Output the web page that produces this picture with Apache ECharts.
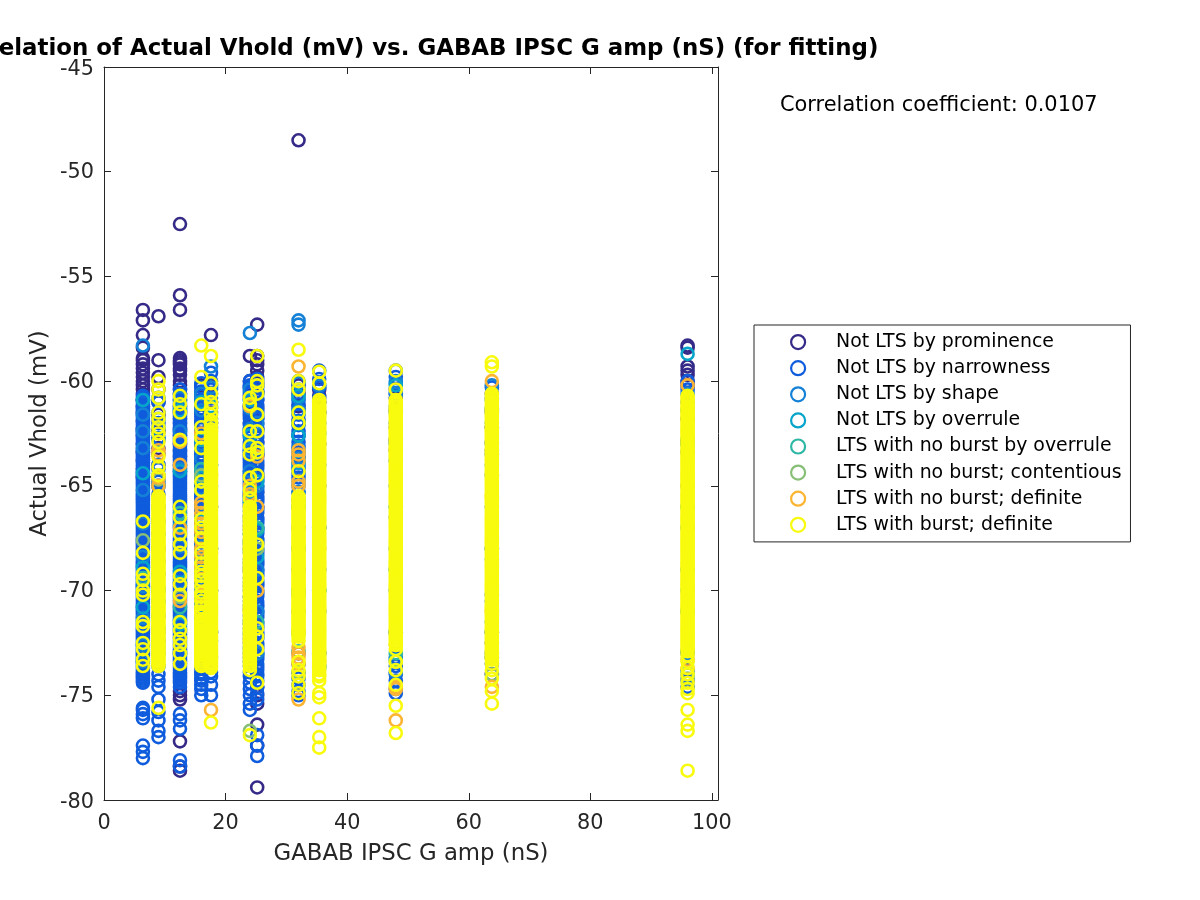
<!DOCTYPE html>
<html><head><meta charset="utf-8">
<style>html,body{margin:0;padding:0;background:#fff}#c{width:1200px;height:900px}</style>
<script src="https://cdn.jsdelivr.net/npm/echarts@6/dist/echarts.min.js"></script>
</head><body><div id="c"></div>
<script>
const chartTitle = 'Correlation of Actual Vhold (mV) vs. GABAB IPSC G amp (nS) (for fitting)';
const corrText = 'Correlation coefficient: 0.0107';
const xName = 'GABAB IPSC G amp (nS)';
const yName = 'Actual Vhold (mV)';
const gValues = [6.4, 8.96, 12.5, 16, 17.6, 24, 25.2, 32, 35.4, 48, 63.8, 96];
const classNames = ['Not LTS by prominence','Not LTS by narrowness','Not LTS by shape','Not LTS by overrule','LTS with no burst by overrule','LTS with no burst; contentious','LTS with no burst; definite','LTS with burst; definite'];
const classColors = ['#352a87','#0f5cdd','#1481d6','#06a4ca','#2eb7a4','#87bf77','#fbb532','#f9fb0e'];

// Each class: one list of Vhold values for each entry of gValues
const prominence = [
 [-56.6,-57.1,-57.8,-58.4,-58.9,-59,-59.2,-59.4,-59.6,-59.8,-60,-60.2,-60.4,-60.6,-60.9,-61.2,-61.5,-61.9,-62.3,-62.6,-63,-63.4,-63.8,-64.2,-64.6],
 [-56.9,-59,-59.8,-60.4,-61,-61.6,-62.4,-63.2,-64,-65],
 [-52.5,-55.9,-56.6,-58.9,-59,-59.1,-59.2,-59.4,-59.5,-59.7,-60,-60.2,-60.4,-60.6,-60.9,-61.2,-61.5,-61.8,-62,-62.3,-62.6,-63,-63.3,-63.6,-64,-64.3,-74.8,-75,-75.2,-77.2,-78.4,-78.6],
 [-60.2,-60.6,-61,-61.5,-62,-62.6],
 [-57.8,-60.2,-60.6,-61,-61.5,-62],
 [-58.8,-60,-60.3,-60.7,-61.2,-61.6,-62,-62.5],
 [-57.3,-58.8,-59,-59.2,-59.5,-59.8,-60.1,-60.5,-60.9,-61.3,-61.8,-62.3,-62.9,-63.5,-64,-64.6,-65.3,-66,-74.6,-75,-75.4,-76.4,-77.4,-79.4],
 [-48.5,-60.2,-60.6,-61.2,-61.9],
 [-60.4,-60.7,-61,-61.5],
 [-60.4,-60.8,-61.4,-62.2,-62.8,-63.3],
 [-60.6,-61.4,-62.2,-62.9,-63.3,-72.5,-73.2,-74],
 [-58.3,-58.4,-59.3,-59.5,-59.7,-60,-60.2,-61.8,-62.9]
];
const narrowness = [
 [-60.7,-60.9,-61,-61.2,-61.4,-61.5,-61.7,-61.8,-62,-62.2,-62.3,-62.5,-62.6,-62.8,-63,-63.1,-63.3,-63.4,-63.6,-63.8,-63.9,-64.1,-64.2,-64.4,-64.5,-64.7,-64.8,-65,-65.1,-65.3,-65.4,-65.6,-65.7,-65.9,-66,-66.2,-66.3,-66.5,-66.6,-66.8,-66.9,-67.1,-67.2,-67.4,-67.5,-67.7,-67.8,-68,-68.1,-68.3,-68.4,-68.6,-68.7,-68.9,-69,-69.2,-69.3,-69.5,-69.6,-69.8,-69.9,-70.1,-70.2,-70.4,-70.5,-70.7,-70.8,-71,-71.1,-71.3,-71.4,-71.6,-71.7,-71.9,-72,-72.2,-72.3,-72.5,-72.6,-72.8,-72.9,-73.1,-73.2,-73.4,-73.5,-73.7,-73.8,-74,-74.2,-74.4,-75.6,-75.7,-75.9,-76.1,-77.4,-77.7,-78],
 [-61,-61.5,-62,-62.7,-63.5,-64.2,-64.8,-65.4,-66,-66.7,-67.3,-68,-68.6,-69.2,-69.9,-70.5,-71.2,-71.8,-72.4,-73,-73.6,-74,-74.3,-74.6,-75.2,-75.8,-76.2,-76.7,-77],
 [-60.4,-60.7,-60.9,-61.1,-61.3,-61.5,-61.8,-62,-62.2,-62.5,-62.8,-63,-63.3,-63.6,-63.8,-64,-64.2,-64.4,-64.6,-64.8,-65,-65.2,-65.3,-65.5,-65.7,-65.8,-66,-66.2,-66.3,-66.5,-66.7,-66.8,-67,-67.2,-67.3,-67.5,-67.6,-67.8,-68,-68.1,-68.3,-68.4,-68.6,-68.8,-68.9,-69.1,-69.3,-69.4,-69.6,-69.8,-69.9,-70.1,-70.2,-70.4,-70.6,-70.7,-70.9,-71,-71.2,-71.4,-71.5,-71.7,-71.8,-72,-72.2,-72.3,-72.5,-72.6,-72.8,-73,-73.1,-73.3,-73.4,-73.6,-73.8,-74,-74.2,-74.4,-74.6,-75.9,-76.2,-76.6,-78.1,-78.4],
 [-60.1,-60.5,-60.9,-61.3,-61.7,-62,-62.3,-62.7,-63,-63.3,-63.6,-63.9,-64.2,-64.4,-64.7,-65,-65.2,-65.5,-65.7,-66,-66.3,-66.6,-66.8,-67.1,-67.4,-67.7,-68,-68.2,-68.5,-68.8,-69.1,-69.3,-69.6,-69.9,-70.2,-70.4,-70.7,-71,-71.3,-71.5,-71.8,-72.1,-72.4,-72.6,-72.9,-73.2,-73.5,-73.7,-74,-74.3,-74.5,-74.7,-75],
 [-59.6,-60,-60.4,-60.8,-61.3,-61.8,-62.2,-64,-66,-68,-70,-72,-73.9,-74.1,-74.5,-75],
 [-60,-60.3,-60.6,-60.9,-61.2,-61.5,-61.8,-62.1,-62.4,-62.7,-63,-63.2,-63.4,-63.7,-63.9,-64.2,-64.4,-64.6,-64.8,-65.1,-65.3,-65.5,-65.8,-66,-66.2,-66.4,-66.7,-66.9,-67.1,-67.3,-67.6,-67.8,-68,-68.2,-68.5,-68.7,-68.9,-69.1,-69.4,-69.6,-69.8,-70,-70.3,-70.5,-70.7,-70.9,-71.2,-71.4,-71.6,-71.8,-72.1,-72.3,-72.5,-72.7,-73,-73.2,-73.4,-73.6,-73.9,-74.1,-74.4,-74.7,-75,-75.4,-75.7],
 [-59.9,-60.2,-60.5,-60.8,-61.1,-61.4,-61.7,-62,-62.3,-62.6,-62.9,-63.2,-63.5,-63.8,-64.1,-64.4,-64.7,-65,-65.2,-65.5,-65.7,-66,-66.2,-66.5,-66.7,-67,-67.2,-67.5,-67.7,-68,-68.2,-68.5,-68.7,-69,-69.2,-69.5,-69.7,-70,-70.2,-70.5,-70.7,-71,-71.2,-71.5,-71.7,-72,-72.2,-72.5,-72.7,-73,-73.2,-73.5,-73.7,-74,-74.3,-74.6,-74.9,-75.2,-76.9,-77.4,-77.9],
 [-60,-60.4,-60.9,-61.4,-61.9,-62.4,-62.9,-63.4,-63.9,-64.4,-65,-66,-67,-68,-69,-70,-70.2,-71,-72,-73,-73.5,-73.9,-74.2,-74.5,-74.8,-75],
 [-59.5,-59.9,-60.3,-60.8,-61.5,-63,-65,-67,-69,-71,-73,-73.6],
 [-59.5,-59.8,-60.1,-60.6,-61.2,-62,-62.9,-63.8,-65,-66.5,-68,-70,-72,-73.2,-73.6,-74,-74.3,-74.7,-74.9],
 [-60.3,-60.8,-61.5,-62.2,-63,-63.5,-64.5,-66,-68,-70.2,-70.5,-72,-73,-73.5],
 [-60,-60.4,-61,-62.8,-63.4,-65,-67,-69,-71,-72.9,-73.8,-74.3,-74.6]
];
const narrownessMore = [
 [-60.8,-61.1,-61.3,-61.6,-61.9,-62.1,-62.4,-62.7,-62.9,-63.2,-63.5,-63.7,-64,-64.3,-64.6,-64.9,-65.2,-65.5,-65.8,-66.1,-66.4,-66.7,-67,-67.3,-67.6,-67.9,-68.2,-68.5,-68.8,-69.1,-69.4,-69.7,-70,-70.3,-70.6,-70.9,-71.2,-71.5,-71.8,-72.1,-72.4,-72.7,-73,-73.3,-73.6,-73.9,-74.1,-74.3],
 [],
 [-60.6,-61,-61.2,-61.4,-61.6,-61.7,-61.9,-62.1,-62.3,-62.4,-62.6,-62.7,-62.9,-63.1,-63.2,-63.4,-63.5,-63.7,-63.9,-64.1,-64.3,-64.5,-64.7,-64.9,-65.1,-65.4,-65.6,-65.9,-66.1,-66.4,-66.6,-66.9,-67.1,-67.4,-67.7,-67.9,-68.2,-68.5,-68.7,-69,-69.2,-69.5,-69.7,-70,-70.3,-70.5,-70.8,-71.1,-71.3,-71.6,-71.9,-72.1,-72.4,-72.7,-72.9,-73.2,-73.5,-73.7,-73.9,-74.1,-74.3],
 [-60.3,-60.7,-61.1,-61.5,-61.9,-62.1,-62.5,-62.9,-63.1,-63.5,-63.8,-64.1,-64.3,-64.6,-64.9,-65.1,-65.4,-65.6,-65.9,-66.2,-66.5,-66.7,-67,-67.3,-67.6,-67.9,-68.1,-68.4,-68.7,-69,-69.2,-69.5,-69.8,-70.1,-70.3,-70.6,-70.9,-71.2,-71.4,-71.7,-72,-72.3,-72.5,-72.8,-73.1,-73.4,-73.6,-73.9,-74.2],
 [],
 [-60.2,-60.5,-60.8,-61.1,-61.4,-61.7,-62,-62.3,-62.6,-62.9,-63.1,-63.3,-63.5,-63.6,-63.8,-64,-64.1,-64.3,-64.5,-64.7,-64.9,-65,-65.2,-65.4,-65.6,-65.7,-65.9],
 [-60,-60.3,-60.6,-60.9,-61.2,-61.5,-61.8,-62.1,-62.4,-62.7,-63,-63.3,-63.6,-63.9,-64.2,-64.5,-64.8,-65.1,-65.3,-65.6,-65.8,-66.1,-66.3,-66.6,-66.8,-67.1,-67.3,-67.6,-67.8,-68.1,-68.3,-68.6,-68.8,-69.1,-69.3,-69.6,-69.8,-70.1,-70.3,-70.6,-70.8,-71.1,-71.3,-71.6,-71.8,-72.1,-72.3,-72.6,-72.8,-73.1,-73.3,-73.6,-73.8,-74.1],
 [-61.1,-61.6,-62.1,-62.6,-63.1,-63.6,-64.1,-64.6,-65.3,-65.7],
 [],[],[],[]
];
const shape = [
 [-58.3,-60.9,-61.6,-62.4,-63.2,-65.2,-66.8,-68.4,-69.8,-71.3,-72.6,-73.4],
 [-60.8,-61.8,-62.8,-64,-66,-68,-70,-72],
 [-60.8,-62.4,-64.2,-66,-67.9,-69.6,-71.4,-73],
 [-60.6,-61.4,-62.2,-63,-63.7,-64.4,-65.1,-65.8,-66.5,-67.2,-67.9,-68.6,-69.3,-70,-70.7],
 [-59.3,-60.3,-61,-62,-64,-68,-72],
 [-57.7,-60.4,-61.3,-62.3,-63.3,-64.3,-65.3,-66.5,-67.7,-69,-70.3,-71.5,-72.8],
 [-60.6,-62,-63.4,-65,-67,-69,-71,-73],
 [-57.1,-57.3,-60.1,-60.8,-61.4,-62,-62.6,-63.2,-63.7,-64.2,-64.8,-65.3,-66,-68,-70,-72],
 [-60.2,-61,-62,-64,-67,-70,-73],
 [-60,-60.6,-61.5,-63,-66,-69,-72,-73.9],
 [-60.2,-60.9,-62,-64,-68,-72],
 [-60.6,-61.4,-63,-66,-70,-73]
];
const overrule = [
 [-60.9,-64.4,-68.9,-70.8],
 [-62.2,-65,-70],
 [-61.4,-64.3,-66.9,-69.1,-71.6],
 [-61,-62.8,-64.6,-66.7,-68.4],
 [-61.2,-65,-70],
 [-60.9,-62.6,-65.5,-67.3,-68.1],
 [-61.6,-64.8,-67.1,-68.4],
 [-60.7,-61.5,-62.6,-63.9,-70],
 [-62.5,-70],
 [-60.2,-66,-73.3],
 [-61.3,-71.5],
 [-58.7,-63,-71]
];
const noBurstOverrule = [
 [-69.4],
 [-64.5,-70.5],
 [-66.3,-70.8],
 [-64.2,-68.9,-71.9],
 [-66,-72.4],
 [-65.8,-72],
 [-67,-71.5],
 [-62,-66,-72.9],
 [-70,-73.7],
 [-69,-73],
 [-68.5,-73.2],
 [-66,-74]
];
const contentious = [
 [-67.6],
 [-64.7,-72.7],
 [-70.3],
 [-64.5,-65.2,-71.2],
 [-66,-73.2],
 [-76.7,-71.6],
 [-68],
 [-72,-73.9],
 [-73.6],
 [-73.4],
 [-74],
 [-74.2]
];
const definiteNoBurst = [
 [],
 [-63.3,-63.5,-64.6,-65,-66,-68],
 [-62.9,-64,-67,-70.5],
 [-62.5,-65.8,-66,-66.3,-66.8,-67.2,-67.6,-68,-68.4,-68.9,-69.5,-70.2,-71],
 [-62,-64.5,-66,-68.2,-70,-75.7],
 [-61.2,-65,-65.4,-66,-66.5,-67,-68,-69,-71,-72.4],
 [-63.6,-66,-70],
 [-59.3,-63.3,-63.5,-63.8,-64.8,-65,-72.7,-73,-73.2,-73.5,-75.2],
 [-63,-65,-68,-73.4],
 [-63.2,-72.6,-74.6,-74.7,-76.2],
 [-60,-65.5,-71,-74.6],
 [-60.2,-65,-73.3,-73.7]
];
const definiteBurst = [
 [-66.7,-68.2,-69.2,-69.5,-70,-70.2,-71.5,-71.7,-72.5,-72.8,-73.3,-73.6],
 [-60,-60.4,-60.8,-61.5,-61.8,-62.2,-62.5,-62.9,-63.6,-64.1,-64.5,-65.5,-65.6,-65.8,-65.9,-66.1,-66.2,-66.4,-66.5,-66.7,-66.8,-67,-67.1,-67.3,-67.4,-67.6,-67.7,-67.9,-68,-68.2,-68.3,-68.5,-68.6,-68.8,-68.9,-69.1,-69.2,-69.4,-69.5,-69.7,-69.8,-70,-70.1,-70.3,-70.4,-70.6,-70.7,-70.9,-71,-71.2,-71.3,-71.5,-71.6,-71.8,-71.9,-72.1,-72.2,-72.4,-72.5,-72.7,-72.8,-73,-73.2,-73.4,-73.6,-75.6],
 [-60.7,-61.1,-61.5,-62.8,-66,-66.5,-67.3,-67.8,-68.2,-69.3,-69.7,-70.2,-71.5,-71.9,-72.3,-72.6,-73,-73.5],
 [-58.3,-59.8,-61.1,-62.2,-62.7,-63.2,-64.8,-65.2,-66.6,-67,-67.5,-68.2,-68.7,-69.3,-69.8,-70.3,-70.8,-71.1,-71.4,-71.7,-71.9,-72.1,-72.3,-72.5,-72.7,-72.9,-73.1,-73.3,-73.5,-73.6],
 [-58.8,-60.1,-60.6,-61,-61.3,-61.6,-61.9,-62.1,-62.4,-62.6,-62.9,-63.1,-63.4,-63.6,-63.9,-64.1,-64.3,-64.5,-64.7,-64.9,-65,-65.2,-65.4,-65.5,-65.7,-65.9,-66,-66.2,-66.3,-66.5,-66.7,-66.8,-67,-67.1,-67.3,-67.5,-67.6,-67.8,-67.9,-68.1,-68.3,-68.4,-68.6,-68.7,-68.9,-69.1,-69.2,-69.4,-69.5,-69.7,-69.9,-70,-70.2,-70.3,-70.5,-70.7,-70.8,-71,-71.1,-71.3,-71.5,-71.6,-71.8,-71.9,-72.1,-72.3,-72.4,-72.6,-72.7,-72.9,-73.1,-73.3,-73.5,-73.7,-76.3],
 [-60.8,-61.1,-62.4,-63.1,-63.5,-64.6,-65.2,-65.6,-66,-66.2,-66.4,-66.6,-66.7,-66.9,-67.1,-67.2,-67.4,-67.6,-67.7,-67.9,-68.1,-68.2,-68.4,-68.6,-68.7,-68.9,-69.1,-69.2,-69.4,-69.6,-69.7,-69.9,-70.1,-70.2,-70.4,-70.6,-70.7,-70.9,-71.1,-71.2,-71.4,-71.6,-71.7,-71.9,-72.1,-72.3,-72.5,-72.7,-72.9,-73.1,-73.4,-73.8,-76.9],
 [-58.8,-60,-60.2,-60.6,-61.6,-62.4,-63.2,-63.4,-64.5,-67.8,-69.4,-71.8,-72.2,-72.8,-74.4],
 [-58.5,-60,-60.4,-61.5,-62,-64.3,-65.5,-65.7,-65.9,-66,-66.2,-66.4,-66.5,-66.7,-66.9,-67,-67.2,-67.4,-67.5,-67.7,-67.9,-68,-68.2,-68.4,-68.5,-68.7,-68.9,-69,-69.2,-69.4,-69.5,-69.7,-69.9,-70,-70.2,-70.4,-70.5,-70.7,-70.9,-71,-71.2,-71.4,-71.5,-71.7,-71.9,-72,-72.2,-73.8,-74.1,-74.5,-74.9],
 [-59.55,-60.1,-60.9,-61.1,-61.3,-61.5,-61.7,-61.9,-62,-62.2,-62.4,-62.5,-62.7,-62.9,-63,-63.2,-63.3,-63.5,-63.7,-63.8,-64,-64.1,-64.3,-64.5,-64.6,-64.8,-64.9,-65.1,-65.3,-65.4,-65.6,-65.7,-65.9,-66.1,-66.2,-66.4,-66.5,-66.7,-66.9,-67,-67.2,-67.3,-67.5,-67.7,-67.8,-68,-68.1,-68.3,-68.5,-68.6,-68.8,-68.9,-69.1,-69.3,-69.4,-69.6,-69.7,-69.9,-70.1,-70.2,-70.4,-70.5,-70.7,-70.9,-71,-71.2,-71.3,-71.5,-71.7,-71.8,-72,-72.1,-72.3,-72.5,-72.6,-72.8,-72.9,-73.1,-73.3,-73.6,-74.3,-74.9,-75.1,-76.1,-77,-77.5],
 [-59.5,-60.4,-60.9,-61.2,-61.5,-61.8,-62.1,-62.3,-62.6,-62.8,-63.1,-63.3,-63.5,-63.7,-64,-64.2,-64.4,-64.6,-64.8,-65,-65.2,-65.3,-65.5,-65.7,-65.8,-66,-66.2,-66.3,-66.5,-66.7,-66.8,-67,-67.2,-67.3,-67.5,-67.7,-67.8,-68,-68.2,-68.3,-68.5,-68.7,-68.8,-69,-69.2,-69.3,-69.5,-69.7,-69.8,-70,-70.2,-70.3,-70.5,-70.7,-70.8,-71,-71.2,-71.3,-71.5,-71.7,-71.8,-72,-72.2,-72.3,-72.5,-72.8,-73.4,-73.8,-74.5,-75.5,-76.8],
 [-59.1,-59.3,-60.6,-60.8,-61,-61.2,-61.4,-61.6,-61.7,-61.9,-62.1,-62.3,-62.5,-62.7,-62.8,-63,-63.2,-63.4,-63.6,-63.7,-63.9,-64.1,-64.3,-64.4,-64.6,-64.8,-64.9,-65.1,-65.3,-65.4,-65.6,-65.8,-65.9,-66.1,-66.3,-66.4,-66.6,-66.8,-66.9,-67.1,-67.3,-67.4,-67.6,-67.8,-67.9,-68.1,-68.3,-68.4,-68.6,-68.8,-68.9,-69.1,-69.3,-69.4,-69.6,-69.8,-69.9,-70.1,-70.3,-70.4,-70.6,-70.8,-70.9,-71.1,-71.3,-71.4,-71.6,-71.8,-71.9,-72.1,-72.3,-72.4,-72.6,-72.8,-73,-73.2,-73.5,-73.8,-74.2,-74.8,-75.4],
 [-60.7,-60.9,-61.1,-61.3,-61.4,-61.6,-61.8,-61.9,-62.1,-62.3,-62.5,-62.6,-62.8,-63,-63.1,-63.3,-63.5,-63.6,-63.8,-64,-64.1,-64.3,-64.5,-64.6,-64.8,-65,-65.1,-65.3,-65.5,-65.6,-65.8,-66,-66.1,-66.3,-66.5,-66.6,-66.8,-67,-67.1,-67.3,-67.5,-67.6,-67.8,-68,-68.1,-68.3,-68.5,-68.6,-68.8,-69,-69.1,-69.3,-69.5,-69.6,-69.8,-70,-70.1,-70.3,-70.5,-70.6,-70.8,-71,-71.1,-71.3,-71.5,-71.6,-71.8,-72,-72.1,-72.3,-72.5,-72.7,-72.9,-73.1,-73.4,-73.7,-74,-74.4,-74.7,-74.9,-75.7,-76.4,-76.7,-78.6]
];
const definiteBurstMore = [
 [],
 [-65.7,-66,-66.3,-66.6,-66.9,-67.2,-67.5,-67.8,-68.1,-68.4,-68.7,-69,-69.3,-69.6,-69.9,-70.2,-70.5,-70.8,-71.1,-71.4,-71.7,-72,-72.3,-72.6,-72.9,-73.1,-73.3,-73.5],
 [],
 [-69.1,-69.5,-70.1,-70.5,-71,-71.2,-71.5,-71.6,-71.8,-72,-72.2,-72.4,-72.6,-72.8,-73,-73.2,-73.4],
 [-62,-62.3,-62.5,-62.7,-62.8,-63,-63.2,-63.3,-63.5,-63.7,-63.8,-64,-64.2,-64.4,-64.6,-64.8,-65.1,-65.3,-65.6,-65.8,-66.1,-66.4,-66.6,-66.9,-67.2,-67.4,-67.7,-68,-68.2,-68.5,-68.8,-69,-69.3,-69.6,-69.8,-70.1,-70.4,-70.6,-70.9,-71.2,-71.4,-71.7,-72,-72.2,-72.5,-72.8,-73,-73.2,-73.4,-73.6],
 [-66.1,-66.3,-66.5,-66.8,-67,-67.3,-67.5,-67.8,-68,-68.3,-68.5,-68.8,-69,-69.3,-69.5,-69.8,-70,-70.3,-70.5,-70.8,-71,-71.3,-71.5,-71.8,-72,-72.2,-72.4,-72.6,-72.8,-73,-73.2,-73.3,-73.5,-73.6],
 [],
 [-65.6,-65.8,-66.1,-66.3,-66.6,-66.8,-67.1,-67.3,-67.6,-67.8,-68.1,-68.3,-68.6,-68.8,-69.1,-69.3,-69.6,-69.8,-70.1,-70.3,-70.6,-70.8,-71.1,-71.3,-71.6,-71.8,-72.1,-72.4,-73.4],
 [-61,-61.2,-61.4,-61.6,-61.8,-62.1,-62.3,-62.6,-62.8,-63.1,-63.4,-63.6,-63.9,-64.2,-64.4,-64.7,-65,-65.2,-65.5,-65.8,-66,-66.3,-66.6,-66.8,-67.1,-67.4,-67.6,-67.9,-68.2,-68.4,-68.7,-69,-69.2,-69.5,-69.8,-70,-70.3,-70.6,-70.8,-71.1,-71.4,-71.6,-71.9,-72.2,-72.4,-72.7,-73,-73.2,-73.4,-73.5,-73.7,-73.8,-74,-74.1],
 [-61,-61.1,-61.3,-61.4,-61.6,-61.7,-61.9,-62,-62.2,-62.4,-62.5,-62.7,-62.9,-63,-63.2,-63.4,-63.6,-63.8,-63.9,-64.1,-64.3,-64.5,-64.7,-64.9,-65.1,-65.4,-65.6,-65.9,-66.1,-66.4,-66.6,-66.9,-67.1,-67.4,-67.6,-67.9,-68.1,-68.4,-68.6,-68.9,-69.1,-69.4,-69.6,-69.9,-70.1,-70.4,-70.6,-70.9,-71.1,-71.4,-71.6,-71.9,-72.1,-72.4,-72.6],
 [-60.7,-60.9,-61.1,-61.3,-61.5,-61.8,-62,-62.2,-62.4,-62.6,-62.9,-63.1,-63.3,-63.5,-63.8,-64,-64.2,-64.5,-64.7,-65,-65.2,-65.5,-65.7,-66,-66.2,-66.5,-66.7,-67,-67.2,-67.5,-67.7,-68,-68.2,-68.5,-68.7,-69,-69.2,-69.5,-69.7,-70,-70.2,-70.5,-70.7,-71,-71.2,-71.5,-71.7,-72,-72.2,-72.5,-72.7,-72.9,-73.1,-73.3],
 [-60.8,-61,-61.2,-61.5,-61.7,-62,-62.2,-62.4,-62.7,-62.9,-63.2,-63.4,-63.7,-63.9,-64.2,-64.4,-64.7,-64.9,-65.2,-65.4,-65.7,-65.9,-66.2,-66.4,-66.7,-66.9,-67.2,-67.4,-67.7,-67.9,-68.2,-68.4,-68.7,-68.9,-69.2,-69.4,-69.7,-69.9,-70.2,-70.4,-70.7,-70.9,-71.2,-71.4,-71.7,-71.9,-72.2,-72.4,-72.6,-72.8]
];
const merged = (a,b)=>a.map((list,i)=>list.concat(b[i]));
const classValues = [prominence, merged(narrowness,narrownessMore), shape, overrule, noBurstOverrule, contentious, definiteNoBurst, merged(definiteBurst,definiteBurstMore)];
const xTicks = [0,20,40,60,80,100];

const axisColor = '#262626';
const font = 'DejaVu Sans';
const chart = echarts.init(document.getElementById('c'), null, {renderer:'canvas'});
const series = classNames.map((name,k)=>({
  name, type:'scatter', symbol:'circle', symbolSize:12, silent:true, animation:false,
  itemStyle:{color:'rgba(0,0,0,0)', borderColor:classColors[k], borderWidth:2.6, opacity:1},
  data: classValues[k].flatMap((list,i)=>list.map(v=>[gValues[i],v]))
}));
const frame = {axisLine:{show:true,onZero:false,lineStyle:{color:axisColor,width:1}},
  axisTick:{show:true,inside:true,length:7,lineStyle:{color:axisColor,width:1}},splitLine:{show:false}};
const yLabelFont = {fontFamily:font,fontSize:20.8,color:axisColor};
chart.setOption({
  backgroundColor:'#fff', animation:false,
  title:[
    {text:chartTitle,left:411,top:37.5,padding:0,textAlign:'center',textStyle:{fontFamily:font,fontSize:22.9,fontWeight:'bold',color:'#000'}},
    {text:corrText,left:780,top:95.5,padding:0,textStyle:{fontFamily:font,fontSize:20.9,fontWeight:'normal',color:'#000'}}
  ],
  grid:{left:104,right:482,top:67,bottom:100,containLabel:false},
  xAxis:[
    {type:'value',min:0,max:101,interval:20,name:xName,nameLocation:'middle',nameGap:43,
     nameTextStyle:{fontFamily:font,fontSize:22.8,color:axisColor},
     axisLabel:{fontFamily:font,fontSize:20.8,color:axisColor,margin:13,customValues:xTicks},...frame,
     axisTick:{...frame.axisTick,customValues:xTicks}},
    {type:'value',position:'top',min:0,max:101,interval:20,axisLabel:{show:false},...frame,
     axisTick:{...frame.axisTick,customValues:xTicks}}
  ],
  yAxis:[
    {type:'value',min:-80,max:-45,interval:5,name:yName,nameLocation:'middle',nameGap:52.6,nameMoveOverlap:false,
     nameTextStyle:{fontFamily:font,fontSize:22.8,color:axisColor},
     axisLabel:{...yLabelFont,margin:10,
       formatter:v=>(v===-45||v===-80)?`{e|${v}}`:`{n|${v}}`,
       rich:{e:{...yLabelFont,padding:[5,0,0,0]},n:{...yLabelFont,padding:[2,0,0,0]}}},...frame},
    {type:'value',position:'right',min:-80,max:-45,interval:5,axisLabel:{show:false},...frame}
  ],
  legend:{orient:'vertical',left:754,top:325,padding:[7.6,9,7.6,36],itemGap:7.1,itemWidth:66,itemHeight:14,
    backgroundColor:'#fff',borderColor:axisColor,borderWidth:1,align:'left',
    textStyle:{fontFamily:font,fontSize:18.9,color:'#000'},
    data:classNames.map((name,k)=>({name,icon:'circle',itemStyle:{color:'rgba(0,0,0,0)',borderColor:classColors[k],borderWidth:2.2}}))
  },
  series
});
</script></body></html>
